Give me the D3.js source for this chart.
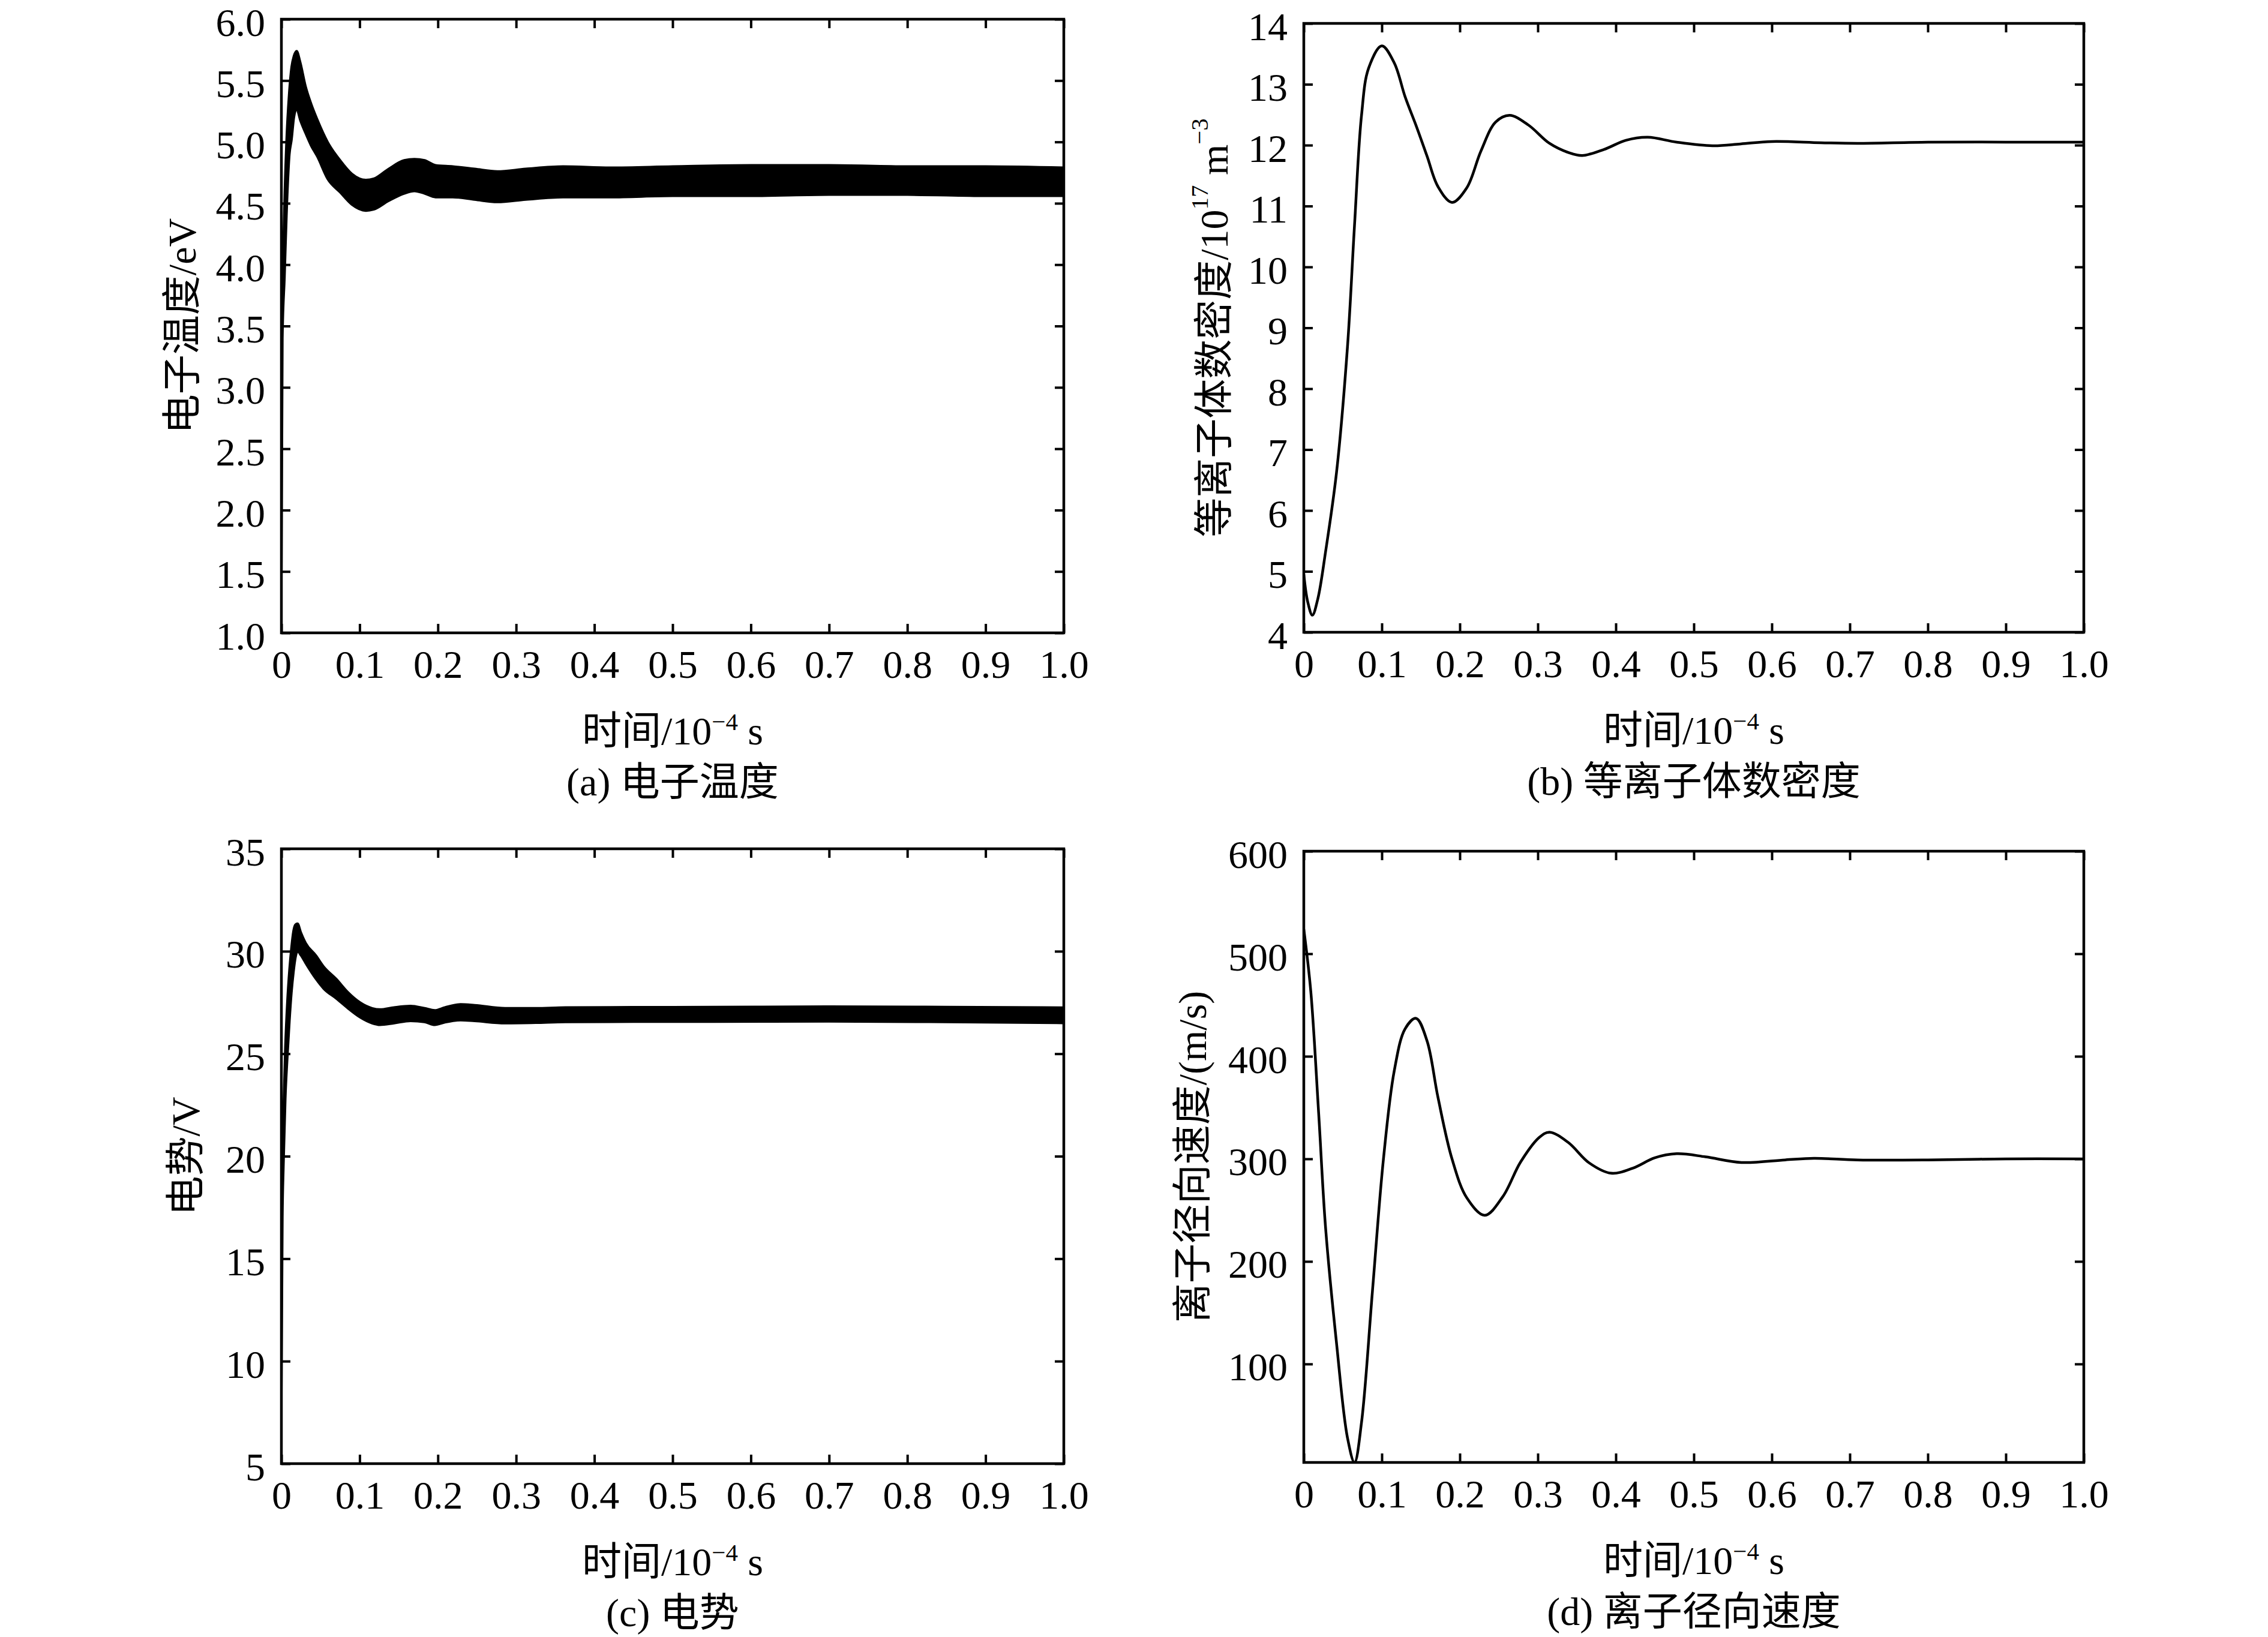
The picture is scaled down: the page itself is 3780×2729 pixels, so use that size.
<!DOCTYPE html>
<html><head>
<meta charset="utf-8">
<title>放电参数随时间的变化</title>
<style>
  body { margin: 0; background: #fff; }
  svg text {
    font-family: "Liberation Serif", "Times New Roman", "Noto Sans CJK SC", serif;
    fill: #000;
  }
</style>
<script src="https://cdn.jsdelivr.net/npm/d3@7/dist/d3.min.js"></script>
</head>
<body>
<svg id="fig" width="3780" height="2729"></svg>
<script>
// ---- data (time in 1e-4 s) ----
const xTicks = [0, 0.1, 0.2, 0.3, 0.4, 0.5, 0.6, 0.7, 0.8, 0.9, 1.0];

// (a) electron temperature, drawn as an oscillation band (upper / lower envelope)
const tA = [0, 0.0013, 0.004, 0.0065, 0.01, 0.013, 0.016, 0.0195, 0.024, 0.031, 0.038, 0.046,
  0.059, 0.075, 0.09, 0.108, 0.118, 0.137, 0.157, 0.17, 0.183, 0.197, 0.219, 0.247, 0.276,
  0.312, 0.36, 0.42, 0.5, 0.6, 0.7, 0.8, 0.9, 1.0];
const teUpper = [1.45, 3.5, 4.5, 5.0, 5.4, 5.61, 5.70, 5.74, 5.65, 5.45, 5.31, 5.18,
  5.00, 4.85, 4.74, 4.69, 4.70, 4.78, 4.85, 4.86, 4.85, 4.81, 4.80, 4.78, 4.76,
  4.78, 4.80, 4.79, 4.80, 4.81, 4.81, 4.80, 4.80, 4.79];
const teLower = [1.45, 3.4, 3.9, 4.4, 4.88, 5.02, 5.2, 5.27, 5.18, 5.07, 4.97, 4.88,
  4.70, 4.59, 4.49, 4.44, 4.45, 4.52, 4.58, 4.60, 4.58, 4.55, 4.55, 4.53, 4.51,
  4.53, 4.55, 4.55, 4.56, 4.56, 4.57, 4.57, 4.56, 4.56];
const yTicksA = [1.0, 1.5, 2.0, 2.5, 3.0, 3.5, 4.0, 4.5, 5.0, 5.5, 6.0];

// (b) plasma number density, 1e17 m^-3
const tB = [0, 0.005, 0.011, 0.018, 0.028, 0.042, 0.056, 0.065, 0.074, 0.083, 0.1, 0.116,
  0.13, 0.144, 0.158, 0.172, 0.19, 0.209, 0.227, 0.246, 0.264, 0.288, 0.315, 0.339, 0.357,
  0.385, 0.413, 0.441, 0.478, 0.524, 0.56, 0.6, 0.663, 0.71, 0.8, 0.9, 1.0];
const density = [4.95, 4.5, 4.28, 4.55, 5.33, 6.63, 8.69, 10.68, 12.49, 13.26, 13.63, 13.35,
  12.79, 12.32, 11.82, 11.32, 11.06, 11.3, 11.9, 12.38, 12.49, 12.33, 12.03, 11.88, 11.83,
  11.93, 12.08, 12.13, 12.05, 11.99, 12.02, 12.06, 12.04, 12.03, 12.05, 12.05, 12.05];
const yTicksB = [4, 5, 6, 7, 8, 9, 10, 11, 12, 13, 14];

// (c) potential, band
const tC = [0, 0.0013, 0.0026, 0.005, 0.0077, 0.0103, 0.0129, 0.0155, 0.018, 0.0206, 0.025,
  0.031, 0.044, 0.054, 0.07, 0.085, 0.1005, 0.116, 0.126, 0.144, 0.165, 0.183, 0.196, 0.209,
  0.229, 0.247, 0.286, 0.325, 0.363, 0.45, 0.55, 0.7, 0.85, 1.0];
const phiUpper = [8.5, 19.5, 22.0, 25.3, 27.6, 29.1, 30.2, 31.0, 31.3, 31.35, 30.9,
  30.4, 29.8, 29.25, 28.65, 28.0, 27.5, 27.22, 27.16, 27.26, 27.33, 27.22, 27.12, 27.26,
  27.41, 27.37, 27.22, 27.22, 27.26, 27.27, 27.28, 27.3, 27.28, 27.25];
const phiLower = [8.5, 17.0, 19.5, 22.8, 24.9, 26.6, 28.0, 29.0, 29.7, 30.0, 29.8,
  29.42, 28.66, 28.18, 27.70, 27.22, 26.78, 26.49, 26.41, 26.49, 26.6, 26.55, 26.41, 26.53,
  26.64, 26.6, 26.49, 26.51, 26.55, 26.56, 26.56, 26.58, 26.55, 26.5];
const yTicksC = [5, 10, 15, 20, 25, 30, 35];

// (d) ion radial velocity, m/s
const tD = [0, 0.009, 0.019, 0.028, 0.042, 0.056, 0.065, 0.074, 0.088, 0.102, 0.116, 0.13,
  0.144, 0.158, 0.172, 0.19, 0.209, 0.232, 0.255, 0.278, 0.302, 0.315, 0.339, 0.366, 0.394,
  0.422, 0.45, 0.478, 0.515, 0.561, 0.617, 0.654, 0.71, 0.8, 0.9, 1.0];
const velocity = [524, 463, 345, 232, 120, 28, 4, 43, 171, 299, 386, 427,
  437, 415, 360, 300, 262, 245, 263, 297, 321, 326, 316, 296, 286,
  291, 301, 305, 302, 296.5, 299, 300.5, 299, 299, 300, 300];
const yTicksD = [100, 200, 300, 400, 500, 600];

// ---- drawing ----
const svg = d3.select("#fig");
const FS = 66, TICK = 15;

function drawPanel(p) {
  const x = d3.scaleLinear().domain([0, 1]).range([p.left, p.right]);
  const y = d3.scaleLinear().domain(p.yDomain).range([p.bottom, p.top]);
  const g = svg.append("g");

  g.append("clipPath").attr("id", "clip-" + p.id)
    .append("rect")
    .attr("x", p.left).attr("y", p.top - 2)
    .attr("width", p.right - p.left).attr("height", p.bottom - p.top + 4);

  const plot = g.append("g").attr("clip-path", `url(#clip-${p.id})`);
  if (p.upper) {
    // fast oscillation shows up as a solid band between two envelopes
    const rows = p.t.map((t, i) => ({t: t, hi: p.upper[i], lo: p.lower[i]}));
    const area = d3.area()
      .x(d => x(d.t)).y0(d => y(d.lo)).y1(d => y(d.hi))
      .curve(d3.curveMonotoneX);
    plot.append("path").datum(rows)
      .attr("d", area)
      .attr("fill", "#000")
      .attr("stroke", "#000")
      .attr("stroke-width", 4)
      .attr("stroke-linejoin", "round");
  } else {
    const rows = p.t.map((t, i) => ({t: t, v: p.values[i]}));
    const line = d3.line().x(d => x(d.t)).y(d => y(d.v)).curve(d3.curveCatmullRom.alpha(0.5));
    plot.append("path").datum(rows)
      .attr("d", line)
      .attr("fill", "none")
      .attr("stroke", "#000")
      .attr("stroke-width", 4.5)
      .attr("stroke-linejoin", "round");
  }

  const fmtX = d => d === 0 ? "0" : d3.format(".1f")(d);

  const axB = g.append("g").attr("transform", `translate(0,${p.bottom})`)
    .call(d3.axisBottom(x).tickValues(xTicks).tickSize(-TICK).tickPadding(28).tickFormat(fmtX));
  const axT = g.append("g").attr("transform", `translate(0,${p.top})`)
    .call(d3.axisTop(x).tickValues(xTicks).tickSize(-TICK).tickFormat(""));
  const axL = g.append("g").attr("transform", `translate(${p.left},0)`)
    .call(d3.axisLeft(y).tickValues(p.yTicks).tickSize(-TICK).tickPadding(27).tickFormat(p.fmtY));
  const axR = g.append("g").attr("transform", `translate(${p.right},0)`)
    .call(d3.axisRight(y).tickValues(p.yTicks).tickSize(-TICK).tickFormat(""));

  [axB, axT, axL, axR].forEach(a => {
    a.select(".domain").remove();
    a.selectAll(".tick line").attr("stroke", "#000").attr("stroke-width", 4);
    a.selectAll("text").attr("font-size", FS).attr("font-family", null).attr("fill", "#000");
  });
  axL.selectAll("text").attr("dy", "0.41em");

  g.append("rect")
    .attr("x", p.left).attr("y", p.top)
    .attr("width", p.right - p.left).attr("height", p.bottom - p.top)
    .attr("fill", "none").attr("stroke", "#000").attr("stroke-width", 4.5);

  // y label
  const cy = (p.top + p.bottom) / 2;
  const yl = g.append("text")
    .attr("transform", `translate(${p.ylabelX},${cy}) rotate(-90)`)
    .attr("text-anchor", "middle")
    .attr("dominant-baseline", "central")
    .attr("font-size", FS);
  p.ylabel.forEach(part => {
    const ts = yl.append("tspan").text(part.s);
    if (part.sup) ts.attr("font-size", FS * 0.62).attr("dy", -24);
    if (part.after) ts.attr("dy", 24);
  });

  // x label
  const cx = (p.left + p.right) / 2;
  const xl = g.append("text")
    .attr("x", cx).attr("y", p.bottom + 186)
    .attr("text-anchor", "middle").attr("font-size", FS);
  xl.append("tspan").text("时间/10");
  xl.append("tspan").text("−4").attr("font-size", FS * 0.62).attr("dy", -24);
  xl.append("tspan").text(" s").attr("dy", 24);

  // caption
  g.append("text")
    .attr("x", cx).attr("y", p.bottom + 271)
    .attr("text-anchor", "middle").attr("font-size", FS)
    .text(p.caption);
}

drawPanel({
  id: "a", left: 469, right: 1773, top: 32, bottom: 1055,
  yDomain: [1, 6], yTicks: yTicksA, fmtY: d3.format(".1f"),
  t: tA, upper: teUpper, lower: teLower,
  ylabelX: 303, ylabel: [{s: "电子温度/eV"}], caption: "(a) 电子温度"
});
drawPanel({
  id: "b", left: 2173, right: 3473, top: 39, bottom: 1054,
  yDomain: [4, 14], yTicks: yTicksB, fmtY: d3.format("d"),
  t: tB, values: density,
  ylabelX: 2023,
  ylabel: [{s: "等离子体数密度/10"}, {s: "17", sup: true}, {s: " m", after: true}, {s: "−3", sup: true}],
  caption: "(b) 等离子体数密度"
});
drawPanel({
  id: "c", left: 469, right: 1773, top: 1415, bottom: 2440,
  yDomain: [5, 35], yTicks: yTicksC, fmtY: d3.format("d"),
  t: tC, upper: phiUpper, lower: phiLower,
  ylabelX: 309, ylabel: [{s: "电势/V"}], caption: "(c) 电势"
});
drawPanel({
  id: "d", left: 2173, right: 3473, top: 1419, bottom: 2438,
  yDomain: [4, 600], yTicks: yTicksD, fmtY: d3.format("d"),
  t: tD, values: velocity,
  ylabelX: 1987, ylabel: [{s: "离子径向速度/(m/s)"}], caption: "(d) 离子径向速度"
});
</script>
</body></html>
